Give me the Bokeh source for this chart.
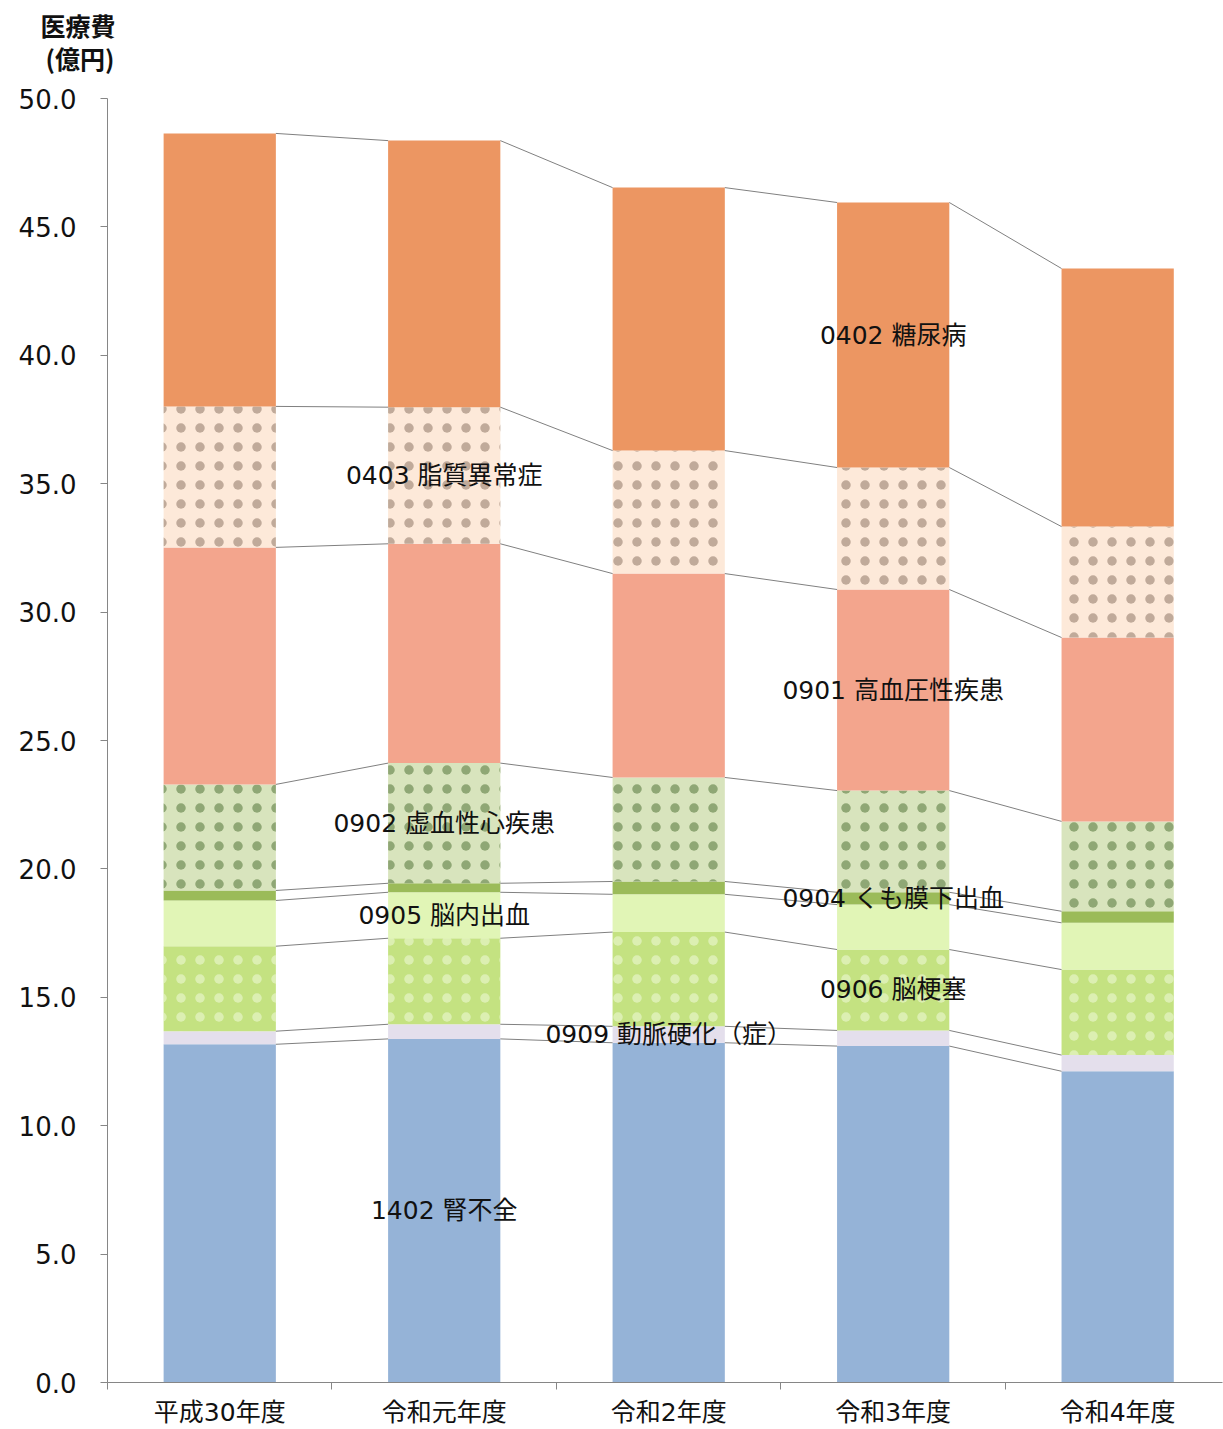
from bokeh.plotting import figure
from bokeh.models import FixedTicker, Range1d, Title, PrintfTickFormatter
from bokeh.core.properties import value
from bokeh.embed import file_html
from bokeh.resources import INLINE

# Fiscal years (categories)
years = ["平成30年度", "令和元年度", "令和2年度", "令和3年度", "令和4年度"]

# Medical cost by disease (100 million yen), stacked bottom to top
series_names = [
    "1402 腎不全", "0909 動脈硬化（症）", "0906 脳梗塞", "0905 脳内出血",
    "0904 くも膜下出血", "0902 虚血性心疾患", "0901 高血圧性疾患",
    "0403 脂質異常症", "0402 糖尿病",
]
v1402 = [13.17, 13.38, 13.23, 13.10, 12.12]
v0909 = [0.51, 0.57, 0.64, 0.61, 0.63]
v0906 = [3.31, 3.35, 3.67, 3.15, 3.33]
v0905 = [1.78, 1.79, 1.47, 1.75, 1.82]
v0904 = [0.39, 0.35, 0.50, 0.48, 0.45]
v0902 = [4.13, 4.68, 4.05, 3.96, 3.50]
v0901 = [9.23, 8.54, 7.94, 7.83, 7.16]
v0403 = [5.49, 5.32, 4.79, 4.75, 4.32]
v0402 = [10.63, 10.38, 10.24, 10.32, 10.05]

series_values = [v1402, v0909, v0906, v0905, v0904, v0902, v0901, v0403, v0402]

# Which bar carries each series' name label
label_bar = [1, 2, 3, 1, 3, 1, 3, 1, 3]

y_ticks = [0, 5, 10, 15, 20, 25, 30, 35, 40, 45, 50]

# Fill styles per series: (fill colour, hatch pattern, hatch colour, hatch alpha)
styles = [
    ("#95B3D7", None, None, 0),
    ("#E4DFEC", None, None, 0),
    ("#C4E281", ".", "#F4FBE4", 0.5),
    ("#E1F5B6", None, None, 0),
    ("#9BBB59", None, None, 0),
    ("#D8E4BD", ".", "#5F7F45", 0.6),
    ("#F3A58D", None, None, 0),
    ("#FDE9D9", ".", "#8E7666", 0.55),
    ("#EC9662", None, None, 0),
]

FONT = "DejaVu Sans, Noto Sans CJK JP"
CJK_FONT = "Noto Sans CJK JP"
AXIS_GRAY = "#868686"
TEXT = "#111111"

n = len(years)
centers = [i + 0.5 for i in range(n)]
bar_w = 0.5

p = figure(
    width=1223, height=1429,
    x_range=Range1d(0, 4.967), y_range=Range1d(0, 50),
    output_backend="svg", toolbar_location=None,
    min_border_left=107, min_border_right=1,
    min_border_top=98, min_border_bottom=47,
)
p.outline_line_color = None
p.xgrid.visible = False
p.ygrid.visible = False
p.background_fill_color = "white"
p.border_fill_color = "white"

bottoms = [0.0] * n
tops_all = []
for vals, (fill, hatch, hcol, halpha) in zip(series_values, styles):
    tops = [b + v for b, v in zip(bottoms, vals)]
    kw = dict(x=centers, width=bar_w, bottom=bottoms, top=tops,
              fill_color=fill, line_color=None)
    if hatch:
        kw.update(hatch_pattern=hatch, hatch_color=hcol, hatch_scale=19,
                  hatch_weight=0.6, hatch_alpha=halpha)
    p.vbar(**kw)
    tops_all.append(tops)
    bottoms = tops

# Series lines joining segment tops between adjacent bars
for tops in tops_all:
    x0 = [c + bar_w / 2 for c in centers[:-1]]
    x1 = [c - bar_w / 2 for c in centers[1:]]
    p.segment(x0=x0, y0=tops[:-1], x1=x1, y1=tops[1:],
              line_color="#808080", line_width=1)

# Series name labels in the middle of chosen segments
lx, ly, lt = [], [], []
prev = [0.0] * n
for name, tops, bi in zip(series_names, tops_all, label_bar):
    lx.append(centers[bi])
    ly.append((prev[bi] + tops[bi]) / 2)
    lt.append(name)
    prev = tops
p.text(x=lx, y=ly, text=lt, text_font=value(FONT), text_font_size="25px",
       text_color=TEXT, text_align="center", text_baseline="middle")

# Y axis
ya = p.yaxis[0]
ya.ticker = FixedTicker(ticks=y_ticks)
ya.formatter = PrintfTickFormatter(format="%.1f")
ya.axis_line_color = AXIS_GRAY
ya.major_tick_line_color = AXIS_GRAY
ya.major_tick_out = 7
ya.major_tick_in = 0
ya.minor_tick_line_color = None
ya.major_label_standoff = 24
ya.major_label_text_font = FONT
ya.major_label_text_font_size = "26px"
ya.major_label_text_color = TEXT

# X axis: labels at bar centres, tick marks at category boundaries
xa = p.xaxis[0]
xa.ticker = FixedTicker(ticks=centers, minor_ticks=list(range(n + 1)))
xa.major_label_overrides = {c: y for c, y in zip(centers, years)}
xa.axis_line_color = AXIS_GRAY
xa.major_tick_line_color = None
xa.major_tick_out = 0
xa.major_tick_in = 0
xa.minor_tick_line_color = AXIS_GRAY
xa.minor_tick_out = 7
xa.minor_tick_in = 0
xa.major_label_standoff = 8
xa.major_label_text_font = FONT
xa.major_label_text_font_size = "25px"
xa.major_label_text_color = TEXT

# Axis unit caption, stacked above the frame (first added sits lowest)
for txt, off, so in (("(億円)", -62, 46), ("医療費", -67, -56)):
    p.add_layout(Title(text=txt, align="left", offset=off, standoff=so,
                       text_font=CJK_FONT, text_font_size="25px",
                       text_font_style="bold", text_color=TEXT), "above")

open("out.html", "w").write(file_html(p, INLINE))
